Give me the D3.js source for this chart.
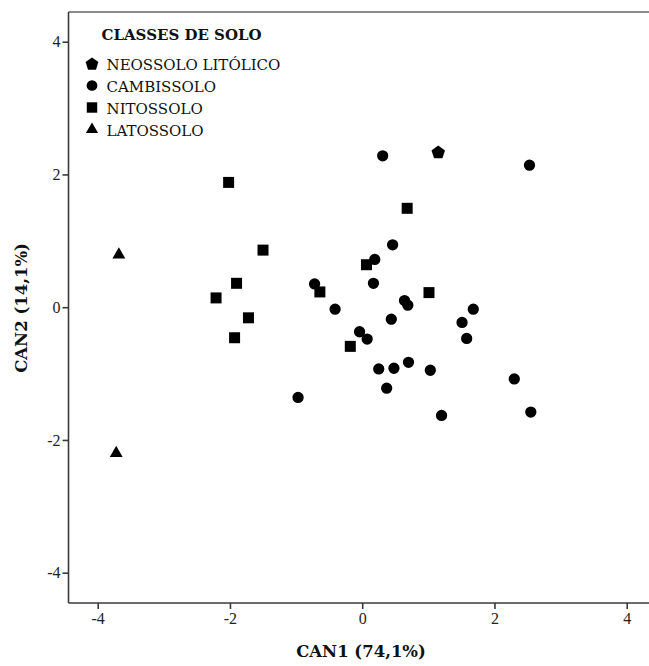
<!DOCTYPE html>
<html>
<head>
<meta charset="utf-8">
<script src="https://cdn.jsdelivr.net/npm/d3@7"></script>
<style>
  html, body { margin: 0; padding: 0; background: #fff; }
  svg { display: block; }
</style>
</head>
<body>
<svg id="chart" width="649" height="666"></svg>
<script>
// Canonical discriminant scores by soil class
const classes = ["NEOSSOLO LITÓLICO", "CAMBISSOLO", "NITOSSOLO", "LATOSSOLO"];

const neossoloX = [1.15];
const neossoloY = [2.34];

const cambissoloX = [0.31, 2.53, 0.46, 0.19, -0.72, 0.17, 0.64, 0.69, -0.41, 0.44, 1.68, 1.51,
                     1.58, -0.04, 0.075, 0.25, 0.48, 0.70, 1.03, 0.37, -0.97, 1.20, 2.30, 2.55];
const cambissoloY = [2.28, 2.14, 0.94, 0.72, 0.35, 0.36, 0.10, 0.03, -0.03, -0.18, -0.03, -0.23,
                     -0.47, -0.37, -0.48, -0.93, -0.92, -0.83, -0.95, -1.22, -1.36, -1.63, -1.08, -1.58];

const nitossoloX = [-2.02, -1.50, -1.90, -2.21, -1.72, -1.93, 0.68, 0.065, -0.64, 1.01, -0.18];
const nitossoloY = [1.88, 0.86, 0.36, 0.14, -0.16, -0.46, 1.49, 0.64, 0.23, 0.22, -0.59];

const latossoloX = [-3.68, -3.72];
const latossoloY = [0.79, -2.20];

const xTicks = [-4, -2, 0, 2, 4];
const yTicks = [-4, -2, 0, 2, 4];

const xTitle = "CAN1 (74,1%)";
const yTitle = "CAN2 (14,1%)";
const legendTitle = "CLASSES DE SOLO";

// Regular pentagon symbol, same sizing convention as d3 symbols (size = area)
const symbolPentagon = {
  draw(context, size) {
    const n = 5;
    const area = 0.5 * n * Math.sin(2 * Math.PI / n);
    const r = Math.sqrt(size / area);
    for (let i = 0; i < n; i++) {
      const a = -Math.PI / 2 + i * 2 * Math.PI / n;
      const px = r * Math.cos(a), py = r * Math.sin(a) + r * 0.1;
      if (i === 0) context.moveTo(px, py); else context.lineTo(px, py);
    }
    context.closePath();
  }
};

const series = [
  { name: classes[0], xs: neossoloX, ys: neossoloY, type: symbolPentagon, size: 120 },
  { name: classes[1], xs: cambissoloX, ys: cambissoloY, type: d3.symbolCircle, size: 100 },
  { name: classes[2], xs: nitossoloX, ys: nitossoloY, type: d3.symbolSquare, size: 121 },
  { name: classes[3], xs: latossoloX, ys: latossoloY, type: d3.symbolTriangle, size: 72 }
];

const svg = d3.select("#chart");
const W = 649, H = 666;
const frame = { left: 68.5, top: 12, bottom: 603 };

const x = d3.scaleLinear().domain([-4, 4]).range([97.7, 626.7]);
const y = d3.scaleLinear().domain([-4, 4]).range([572.7, 41.7]);

const tickFont = "'Liberation Serif', 'Times New Roman', serif";
const labelFont = "'DejaVu Serif', serif";
const plainNumber = d => String(d);

// Frame: light top rule, dark left and bottom axes
svg.append("line")
  .attr("x1", frame.left).attr("x2", W)
  .attr("y1", frame.top).attr("y2", frame.top)
  .attr("stroke", "#8a8a8a").attr("stroke-width", 2);

const xAxis = svg.append("g")
  .attr("transform", `translate(0,${frame.bottom})`)
  .call(d3.axisBottom(x).tickValues(xTicks).tickSize(6).tickPadding(4).tickFormat(plainNumber));
xAxis.select(".domain").remove();
xAxis.append("line")
  .attr("x1", frame.left).attr("x2", W).attr("y1", 0).attr("y2", 0)
  .attr("stroke", "#3a3a3a").attr("stroke-width", 1.6);

const yAxis = svg.append("g")
  .attr("transform", `translate(${frame.left},0)`)
  .call(d3.axisLeft(y).tickValues(yTicks).tickSize(6).tickPadding(2).tickFormat(plainNumber));
yAxis.select(".domain").remove();
yAxis.append("line")
  .attr("x1", 0).attr("x2", 0).attr("y1", frame.top).attr("y2", frame.bottom)
  .attr("stroke", "#3a3a3a").attr("stroke-width", 1.6);

svg.selectAll(".tick line").attr("stroke", "#3a3a3a").attr("stroke-width", 1.6);
svg.selectAll(".tick text")
  .attr("font-family", tickFont).attr("font-size", 16).attr("fill", "#222");

// Axis titles
svg.append("text")
  .attr("x", 361).attr("y", 657)
  .attr("text-anchor", "middle")
  .attr("font-family", labelFont).attr("font-weight", "bold").attr("font-size", 16.5)
  .attr("fill", "#111")
  .text(xTitle);

svg.append("text")
  .attr("transform", "translate(27,308) rotate(-90)")
  .attr("text-anchor", "middle")
  .attr("font-family", labelFont).attr("font-weight", "bold").attr("font-size", 16.5)
  .attr("fill", "#111")
  .text(yTitle);

// Points
const sym = d3.symbol();
series.forEach(s => {
  svg.append("g").selectAll("path")
    .data(s.xs.map((v, i) => [v, s.ys[i]]))
    .join("path")
    .attr("transform", d => `translate(${x(d[0])},${y(d[1])})`)
    .attr("d", sym.type(s.type).size(s.size)())
    .attr("fill", "#000");
});

// Legend
const legend = svg.append("g");
legend.append("text")
  .attr("x", 101.5).attr("y", 40)
  .attr("font-family", labelFont).attr("font-weight", "bold").attr("font-size", 15)
  .attr("fill", "#111")
  .text(legendTitle);

const rows = legend.selectAll("g.row")
  .data(series)
  .join("g")
  .attr("class", "row")
  .attr("transform", (d, i) => `translate(0,${63.5 + i * 22})`);

rows.append("path")
  .attr("transform", "translate(92,0)")
  .attr("d", d => sym.type(d.type).size(d.size * 0.9)())
  .attr("fill", "#000");

rows.append("text")
  .attr("x", 106.5).attr("y", 6)
  .attr("font-family", labelFont).attr("font-size", 15)
  .attr("fill", "#111")
  .text(d => d.name);
</script>
</body>
</html>
